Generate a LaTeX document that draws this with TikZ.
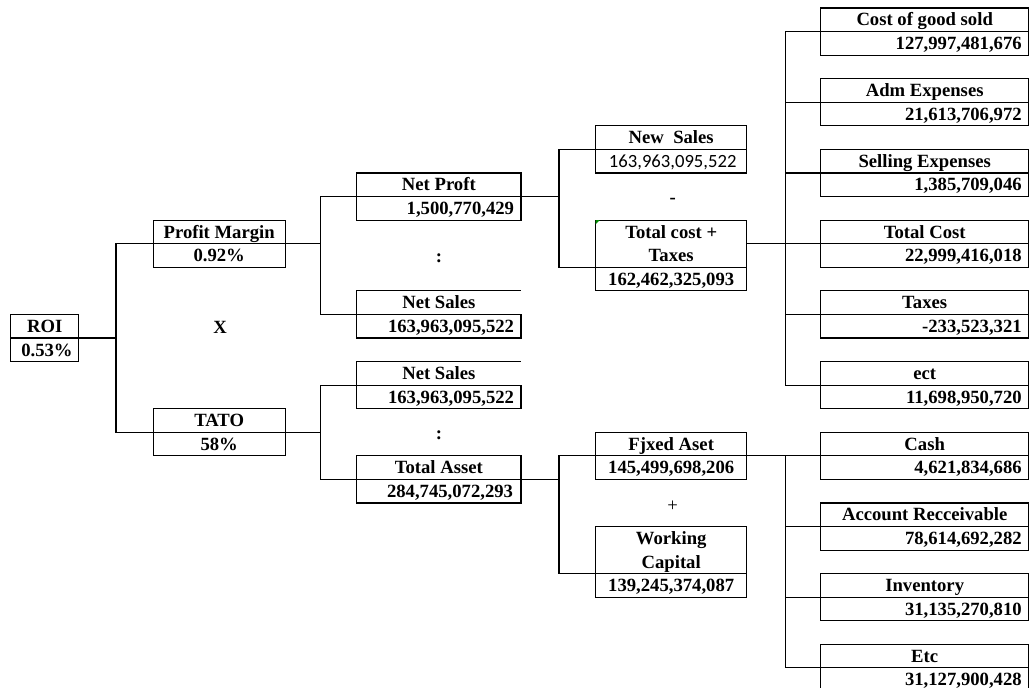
\documentclass[tikz,border=0pt]{standalone}
\usepackage{fontspec}
\setmainfont{Liberation Serif}
\newfontfamily\calib{Carlito}
\begin{document}
\begin{tikzpicture}[x=0.75pt,y=-0.75pt,
  every node/.style={inner sep=0pt,outer sep=0pt},
  box/.style={draw,line width=0.8pt,minimum height=35.36pt},
  boxhigh/.style={draw,line width=0.8pt,minimum height=53.03pt},
  openbox/.style={minimum height=35.36pt},
  wroi/.style={minimum width=51pt},
  wtwo/.style={minimum width=98.8pt},
  wthree/.style={minimum width=123.2pt},
  wfour/.style={minimum width=113.25pt},
  wfive/.style={minimum width=156pt},
  lbl/.style={font=\fontsize{14}{16}\selectfont\bfseries, text height=9.3pt, text depth=0pt},
  num/.style={lbl, anchor=east},
  snum/.style={font=\fontsize{14}{16}\selectfont\calib, text height=9.3pt, text depth=0pt},
  op/.style={font=\fontsize{14}{16}\selectfont, text height=9.3pt, text depth=0pt},
  conn/.style={line width=0.8pt},
]
\useasboundingbox (0,0) rectangle (1029,688);
\clip (0,0) rectangle (1029,688);

% ---------- column 1 ----------
\node[box,wroi] (roi) at (44.7,337.98) {};
\node[lbl] (roit) at (44.7,326.2) {ROI};
\node[lbl] (roiv) at (47,349.8) {0.53\%};
\draw[conn] (roi.west) -- (roi.east);

% ---------- column 2 ----------
\node[box,wtwo] (pm) at (219.2,243.7) {};
\node[lbl] (pmt) at (219.2,231.9) {Profit Margin};
\node[lbl] (pmv) at (219.2,255.5) {0.92\%};
\node[lbl] (times) at (220,327) {X};
\node[box,wtwo] (tato) at (219.2,432.26) {};
\node[lbl] (tatot) at (219.2,420.5) {TATO};
\node[lbl] (tatov) at (219.2,444.1) {58\%};

% ---------- column 3 ----------
\node[box,wthree] (np) at (438.85,196.56) {};
\node[lbl] (npt) at (438.85,184.8) {Net Proft};
\node[num] (npv) at (514,208.35) {1,500,770,429};
\node[lbl] (colonA) at (439,256) {:};
\node[openbox,wthree] (nsa) at (438.85,314.41) {};
\node[lbl] (nsat) at (438.85,302.6) {Net Sales};
\node[num] (nsav) at (514,326.2) {163,963,095,522};
\draw[conn] (nsa.north east) -- (nsa.north west) -- (nsa.south west) -- (nsa.south east) -- (nsa.east);
\node[openbox,wthree] (nsb) at (438.85,385.12) {};
\node[lbl] (nsbt) at (438.85,373.3) {Net Sales};
\node[num] (nsbv) at (514,396.9) {163,963,095,522};
\draw[conn] (nsb.north east) -- (nsb.north west) -- (nsb.south west) -- (nsb.south east) -- (nsb.east);
\node[lbl] (colonB) at (439,433) {:};
\node[box,wthree] (ta) at (438.85,479.4) {};
\node[lbl] (tat) at (438.85,467.6) {Total Asset};
\node[num] (tav) at (513,491.2) {284,745,072,293};

% ---------- column 4 ----------
\node[box,wfour] (news) at (671.2,149.42) {};
\node[lbl] (newst) at (671.2,137.6) {New~ Sales};
\node[snum] (newsv) at (672.7,161.2) {163,963,095,522};
\node[lbl] (minus) at (672.7,197) {-};
\node[boxhigh,wfour] (tct) at (671.2,255.49) {};
\node[lbl] (tcta) at (671.2,231.9) {Total cost +};
\node[lbl] (tctb) at (671.2,255.5) {Taxes};
\node[lbl] (tctv) at (671.2,279.06) {162,462,325,093};
\fill[green!55!black] (tct.north west) -- ++(4,0) -- ++(-4,4) -- cycle;
\coordinate (tcd) at ([yshift=17.68pt]tct.south east);
\coordinate (tco) at ([yshift=8.84pt]tct.east);
\node[box,wfour] (fa) at (671.2,455.83) {};
\node[lbl] (fat) at (671.2,444.0) {Fjxed Aset};
\node[lbl] (fav) at (671.2,467.6) {145,499,698,206};
\node[op] (plus) at (672.7,505) {+};
\node[boxhigh,wfour] (wc) at (671.2,561.9) {};
\node[lbl] (wca) at (671.2,538.3) {Working};
\node[lbl] (wcb) at (671.2,561.9) {Capital};
\node[lbl] (wcv) at (671.2,585.5) {139,245,374,087};
\coordinate (wcd) at ([yshift=17.68pt]wc.south east);

% ---------- column 5 ----------
\node[box,wfive] (cogs) at (924.7,31.57) {};
\node[lbl] (cogst) at (924.7,19.78) {Cost of good sold};
\node[num] (cogsv) at (1021.7,43.36) {127,997,481,676};
\node[box,wfive] (adm) at (924.7,102.28) {};
\node[lbl] (admt) at (924.7,90.49) {Adm Expenses};
\node[num] (admv) at (1021.7,114.07) {21,613,706,972};
\node[box,wfive] (sell) at (924.7,172.99) {};
\node[lbl] (sellt) at (924.7,161.2) {Selling Expenses};
\node[num] (sellv) at (1021.7,184.78) {1,385,709,046};
\node[box,wfive] (tcost) at (924.7,243.7) {};
\node[lbl] (tcostt) at (924.7,231.91) {Total Cost};
\node[num] (tcostv) at (1021.7,255.49) {22,999,416,018};
\node[box,wfive] (tax) at (924.7,314.41) {};
\node[lbl] (taxt) at (924.7,302.62) {Taxes};
\node[num] (taxv) at (1021.7,326.2) {-233,523,321};
\node[box,wfive] (ect) at (924.7,385.12) {};
\node[lbl] (ectt) at (924.7,373.33) {ect};
\node[num] (ectv) at (1021.7,396.91) {11,698,950,720};
\node[box,wfive] (cash) at (924.7,455.83) {};
\node[lbl] (casht) at (924.7,444.04) {Cash};
\node[num] (cashv) at (1021.7,467.62) {4,621,834,686};
\node[box,wfive] (ar) at (924.7,526.54) {};
\node[lbl] (art) at (924.7,514.75) {Account Recceivable};
\node[num] (arv) at (1021.7,538.33) {78,614,692,282};
\node[box,wfive] (inv) at (924.7,597.25) {};
\node[lbl] (invt) at (924.7,585.46) {Inventory};
\node[num] (invv) at (1021.7,609.04) {31,135,270,810};
\node[box,wfive] (etc) at (924.7,667.96) {};
\node[lbl] (etct) at (924.7,656.17) {Etc};
\node[num] (etcv) at (1021.7,679.75) {31,127,900,428};

% ---------- connectors ----------
\draw[conn] (roi.east) -- ++(37.3,0) |- (pm.east);
\draw[conn] (roi.east) -- ++(37.3,0) |- (tato.east);
\draw[conn] (pm.east) -- ++(35.7,0) |- (np.east);
\draw[conn] (pm.east) -- ++(35.7,0) |- (nsa.east);
\draw[conn] (tato.east) -- ++(35.7,0) |- (nsb.east);
\draw[conn] (tato.east) -- ++(35.7,0) |- (ta.east);
\draw[conn] (np.east) -- ++(38,0) |- (news.east);
\draw[conn] (np.east) -- ++(38,0) |- (tcd);
\draw[conn] (ta.east) -- ++(38,0) |- (fa.east);
\draw[conn] (ta.east) -- ++(38,0) |- (wcd);
\foreach \c in {cogs,adm,sell,tcost,tax,ect}
  \draw[conn] (tco) -- ++(39,0) |- (\c.east);
\foreach \c in {cash,ar,inv,etc}
  \draw[conn] (fa.east) -- ++(39,0) |- (\c.east);
\end{tikzpicture}
\end{document}
